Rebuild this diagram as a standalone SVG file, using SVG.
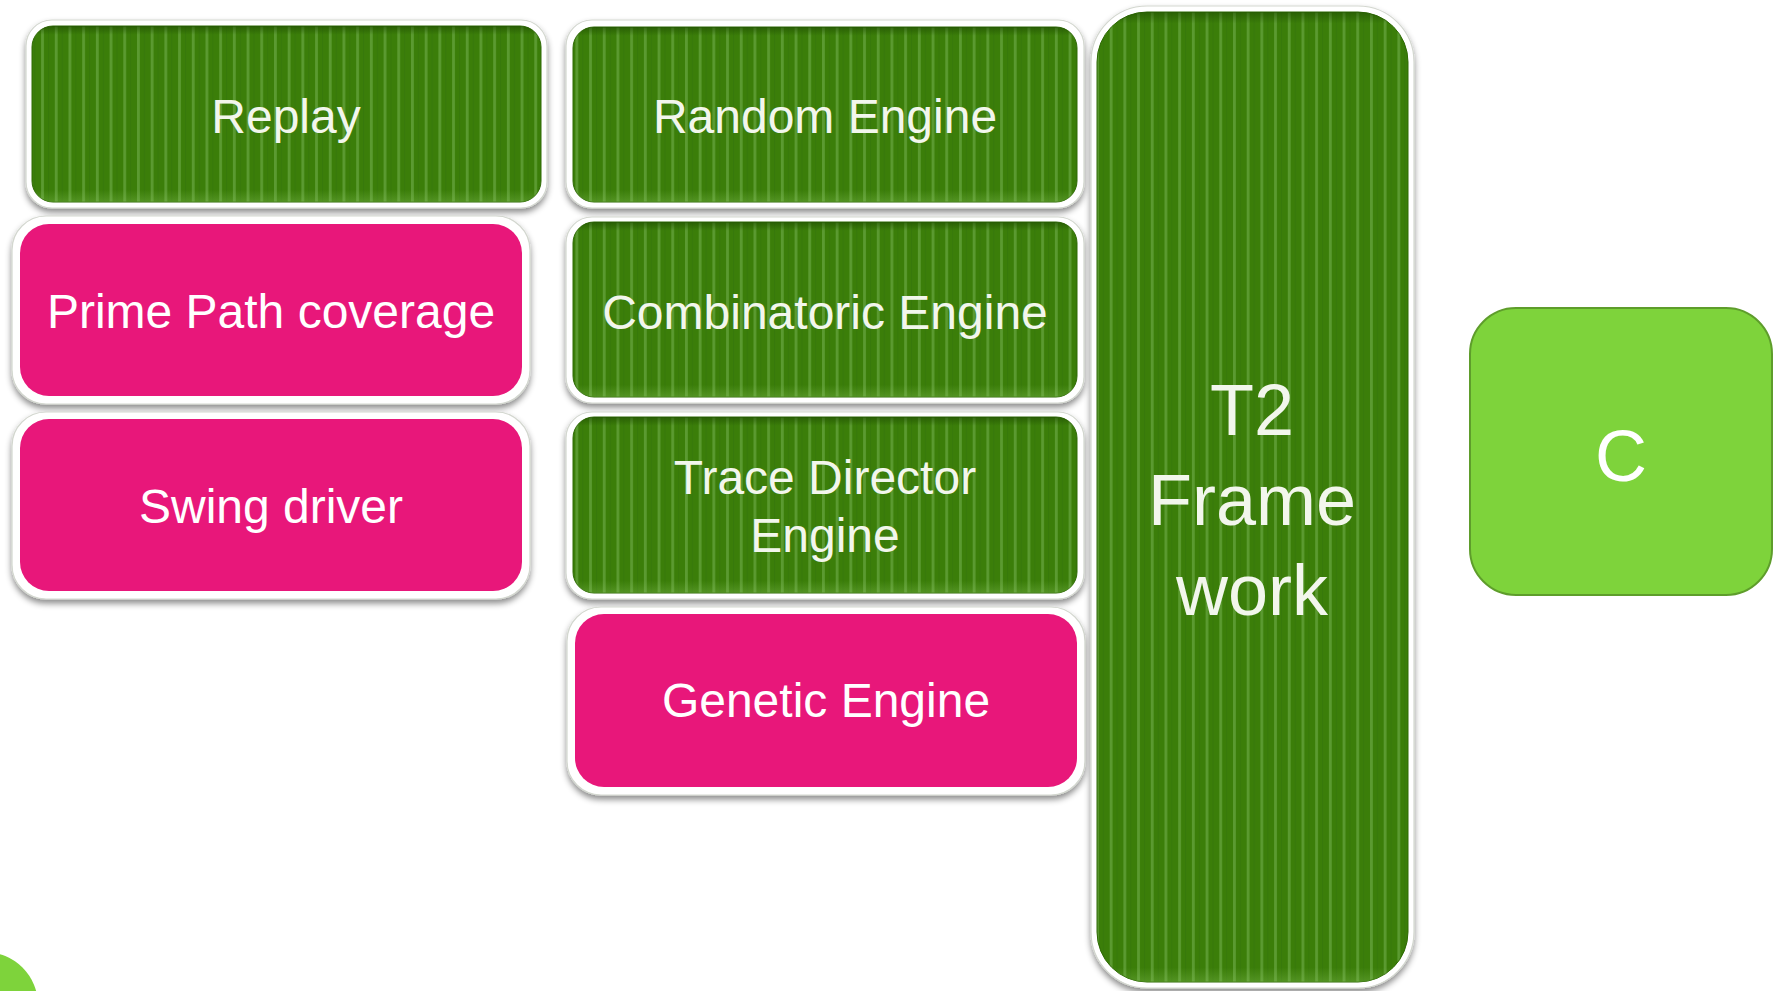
<svg xmlns="http://www.w3.org/2000/svg" width="1775" height="991" viewBox="0 0 1775 991">
  <defs>
    <pattern id="stripes" patternUnits="userSpaceOnUse" width="13.7" height="20">
      <rect width="13.7" height="20" fill="#3b7e09"/>
      <rect x="0" width="2.8" height="20" fill="#619f39" opacity="0.85"/>
      <rect x="7" width="1" height="20" fill="#35760b" opacity="0.8"/>
    </pattern>
    <linearGradient id="topShade" x1="0" y1="0" x2="0" y2="1">
      <stop offset="0" stop-color="#1d4a00" stop-opacity="0.6"/>
      <stop offset="0.05" stop-color="#1d4a00" stop-opacity="0"/>
      <stop offset="0.93" stop-color="#8cc860" stop-opacity="0"/>
      <stop offset="1" stop-color="#8cc860" stop-opacity="0.3"/>
    </linearGradient>
    <linearGradient id="topShadeTall" x1="0" y1="0" x2="0" y2="1">
      <stop offset="0" stop-color="#1d4a00" stop-opacity="0.55"/>
      <stop offset="0.012" stop-color="#1d4a00" stop-opacity="0"/>
      <stop offset="0.985" stop-color="#8cc860" stop-opacity="0"/>
      <stop offset="1" stop-color="#8cc860" stop-opacity="0.3"/>
    </linearGradient>
    <filter id="shadow" x="-10%" y="-10%" width="120%" height="125%">
      <feDropShadow dx="0" dy="4" stdDeviation="3" flood-color="#000" flood-opacity="0.45"/>
    </filter>
  </defs>
  <style>
    .frame { fill: #ffffff; stroke: #d3d7cf; stroke-width: 1.2; filter: url(#shadow); }
    .green { fill: url(#stripes); stroke: #2e6a04; stroke-width: 1; }
    .shade { fill: url(#topShade); }
    .pink { fill: #e8177a; }
    .lbl { font-family: "Liberation Sans", Arial, sans-serif; text-anchor: middle; font-size: 48px; }
    .g-lbl { fill: #f2f6ec; }
    .p-lbl { fill: #ffffff; }
  </style>

  <rect width="1775" height="991" fill="#ffffff"/>

  <g id="connectors"/>

  <g id="node-replay">
    <rect class="frame" x="26" y="20" width="521" height="188" rx="26"/>
    <rect class="green" x="32" y="26" width="509" height="176" rx="21"/>
    <rect class="shade" x="32" y="26" width="509" height="176" rx="21"/>
    <text class="lbl g-lbl" x="286" y="133">Replay</text>
  </g>

  <g id="node-prime-path">
    <rect class="frame" x="12" y="216" width="518" height="188" rx="34"/>
    <rect class="pink" x="20" y="224" width="502" height="172" rx="29"/>
    <text class="lbl p-lbl" x="271" y="328">Prime Path coverage</text>
  </g>

  <g id="node-swing">
    <rect class="frame" x="12" y="412" width="518" height="187" rx="34"/>
    <rect class="pink" x="20" y="419" width="502" height="172" rx="29"/>
    <text class="lbl p-lbl" x="271" y="523">Swing driver</text>
  </g>

  <g id="node-random">
    <rect class="frame" x="566" y="20" width="518" height="188" rx="26"/>
    <rect class="green" x="573" y="27" width="504" height="175" rx="21"/>
    <rect class="shade" x="573" y="27" width="504" height="175" rx="21"/>
    <text class="lbl g-lbl" x="825" y="133">Random Engine</text>
  </g>

  <g id="node-combinatoric">
    <rect class="frame" x="566" y="217" width="518" height="186" rx="26"/>
    <rect class="green" x="573" y="222" width="504" height="175" rx="21"/>
    <rect class="shade" x="573" y="222" width="504" height="175" rx="21"/>
    <text class="lbl g-lbl" x="825" y="329">Combinatoric Engine</text>
  </g>

  <g id="node-trace">
    <rect class="frame" x="566" y="412" width="518" height="187" rx="26"/>
    <rect class="green" x="573" y="417" width="504" height="176" rx="21"/>
    <rect class="shade" x="573" y="417" width="504" height="176" rx="21"/>
    <text class="lbl g-lbl" x="825" y="494">Trace Director</text>
    <text class="lbl g-lbl" x="825" y="552">Engine</text>
  </g>

  <g id="node-genetic">
    <rect class="frame" x="567" y="607" width="518" height="188" rx="34"/>
    <rect class="pink" x="575" y="614" width="502" height="173" rx="29"/>
    <text class="lbl p-lbl" x="826" y="717">Genetic Engine</text>
  </g>

  <g id="node-t2">
    <rect class="frame" x="1091" y="6" width="323" height="982" rx="56"/>
    <rect class="green" x="1097" y="12" width="311" height="970" rx="50"/>
    <rect x="1097" y="12" width="311" height="970" rx="50" fill="url(#topShadeTall)"/>
    <text class="lbl g-lbl" x="1252" y="435" style="font-size:72px">T2</text>
    <text class="lbl g-lbl" x="1252" y="525" style="font-size:72px">Frame</text>
    <text class="lbl g-lbl" x="1252" y="615" style="font-size:72px">work</text>
  </g>

  <g id="node-c">
    <rect x="1470" y="308" width="302" height="287" rx="46" fill="#7ed33b" stroke="#5e9d2b" stroke-width="2"/>
    <text class="lbl" x="1621" y="481" style="font-size:72px;fill:#ffffff">C</text>
  </g>

  <g id="node-partial-circle">
    <circle cx="-15" cy="1005" r="53" fill="#7ed33b"/>
  </g>
</svg>
